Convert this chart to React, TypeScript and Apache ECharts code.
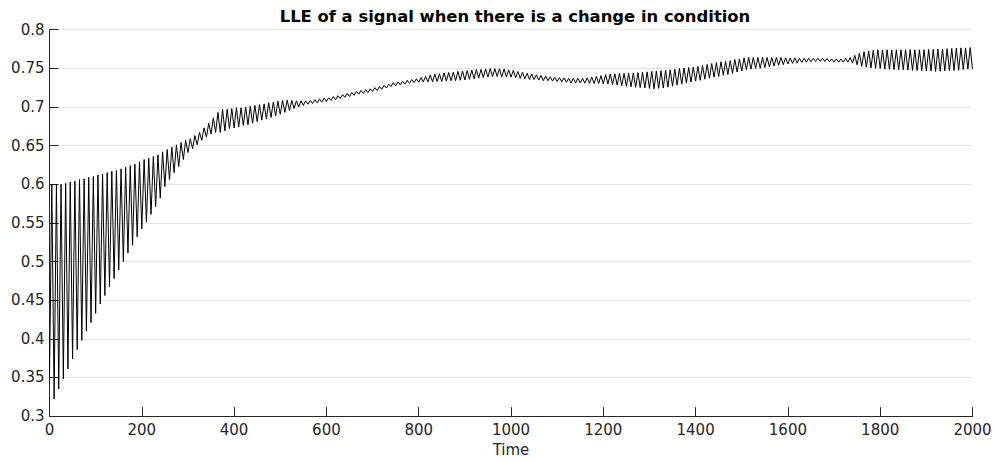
import React, { useEffect, useRef } from "react";
import * as echarts from "echarts";

const TITLE = "LLE of a signal when there is a change in condition";
const X_NAME = "Time";
const X_MIN = 0;
const X_MAX = 2000;
const X_STEP = 200;
const Y_MIN = 0.3;
const Y_MAX = 0.8;
const Y_STEP = 0.05;
const SAMPLE_STEP = 5; // troughs at even multiples of 10, peaks halfway between

// local minima of the signal, t = 0, 10, 20, ... 2000
const troughs = [
  0.350, 0.322, 0.335, 0.348, 0.361, 0.374, 0.386, 0.398, 0.410, 0.421,
  0.433, 0.445, 0.456, 0.467, 0.478, 0.489, 0.500, 0.511, 0.521, 0.532,
  0.542, 0.551, 0.561, 0.571, 0.582, 0.597, 0.606, 0.615, 0.623, 0.632,
  0.641, 0.646, 0.651, 0.657, 0.661, 0.665, 0.667, 0.667, 0.669, 0.672,
  0.673, 0.674, 0.676, 0.677, 0.679, 0.681, 0.683, 0.6845, 0.6865, 0.6885,
  0.6905, 0.693, 0.6955, 0.698, 0.700, 0.702, 0.7035, 0.7045, 0.7055, 0.7065,
  0.707, 0.7085, 0.7095, 0.711, 0.7125, 0.7135, 0.715, 0.7165, 0.7175, 0.7185,
  0.720, 0.7215, 0.723, 0.7245, 0.7265, 0.7275, 0.7285, 0.7295, 0.7305, 0.7315,
  0.732, 0.7325, 0.7325, 0.7325, 0.733, 0.733, 0.7335, 0.734, 0.734, 0.7345,
  0.735, 0.7358, 0.7365, 0.7375, 0.7383, 0.7387, 0.7395, 0.7395, 0.739, 0.739,
  0.7385, 0.738, 0.737, 0.7365, 0.7357, 0.7355, 0.7348, 0.734, 0.734, 0.7335,
  0.733, 0.7325, 0.732, 0.731, 0.731, 0.731, 0.7308, 0.7307, 0.7305, 0.7305,
  0.730, 0.7298, 0.729, 0.7283, 0.7275, 0.7268, 0.726, 0.7255, 0.725, 0.7245,
  0.724, 0.7235, 0.724, 0.7245, 0.7256, 0.7268, 0.7282, 0.7295, 0.731, 0.7323,
  0.7335, 0.7345, 0.736, 0.7373, 0.7385, 0.7395, 0.741, 0.742, 0.7435, 0.7452,
  0.7465, 0.748, 0.749, 0.750, 0.7502, 0.751, 0.752, 0.753, 0.754, 0.7547,
  0.7555, 0.7565, 0.757, 0.7576, 0.758, 0.7585, 0.759, 0.759, 0.7589, 0.7585,
  0.758, 0.758, 0.758, 0.758, 0.7568, 0.7545, 0.7525, 0.7515, 0.7505, 0.750,
  0.7498, 0.749, 0.7488, 0.7484, 0.748, 0.748, 0.7478, 0.7474, 0.747, 0.747,
  0.7465, 0.7465, 0.746, 0.7462, 0.7465, 0.7468, 0.7472, 0.7475, 0.7485, 0.749,
  0.749,
];

// local maxima of the signal, t = 5, 15, 25, ... 1995
const peaks = [
  0.600, 0.600, 0.600, 0.601, 0.603, 0.604, 0.606, 0.607, 0.609, 0.610,
  0.612, 0.613, 0.615, 0.617, 0.618, 0.620, 0.622, 0.624, 0.626, 0.629,
  0.632, 0.634, 0.636, 0.638, 0.642, 0.645, 0.648, 0.651, 0.654, 0.657,
  0.659, 0.663, 0.667, 0.673, 0.679, 0.686, 0.693, 0.697, 0.697, 0.698,
  0.699, 0.699, 0.700, 0.701, 0.702, 0.703, 0.704, 0.7055, 0.7065, 0.7075,
  0.7085, 0.709, 0.7085, 0.708, 0.708, 0.708, 0.7085, 0.7095, 0.7105, 0.7115,
  0.712, 0.7135, 0.7145, 0.716, 0.7175, 0.7185, 0.720, 0.7215, 0.7225, 0.7235,
  0.725, 0.7265, 0.728, 0.7295, 0.7315, 0.7325, 0.7335, 0.7345, 0.7355, 0.7365,
  0.738, 0.7395, 0.7415, 0.7425, 0.743, 0.744, 0.7445, 0.745, 0.746, 0.7465,
  0.747, 0.7478, 0.7485, 0.7485, 0.7493, 0.7497, 0.7495, 0.7495, 0.749, 0.748,
  0.7475, 0.746, 0.745, 0.7435, 0.7427, 0.7415, 0.7408, 0.740, 0.739, 0.7385,
  0.738, 0.7375, 0.737, 0.737, 0.737, 0.737, 0.7378, 0.7387, 0.7395, 0.7405,
  0.742, 0.7428, 0.743, 0.7433, 0.7435, 0.7438, 0.744, 0.7445, 0.745, 0.7455,
  0.746, 0.7465, 0.747, 0.7475, 0.748, 0.7488, 0.7498, 0.7505, 0.751, 0.7517,
  0.7525, 0.7535, 0.755, 0.7563, 0.7575, 0.7585, 0.759, 0.760, 0.7615, 0.7622,
  0.7635, 0.764, 0.764, 0.764, 0.7642, 0.764, 0.764, 0.764, 0.764, 0.7637,
  0.7635, 0.7635, 0.763, 0.763, 0.763, 0.7629, 0.763, 0.763, 0.7625, 0.7621,
  0.762, 0.762, 0.763, 0.764, 0.7668, 0.7695, 0.7715, 0.7725, 0.7735, 0.774,
  0.7738, 0.774, 0.7738, 0.774, 0.774, 0.774, 0.7742, 0.774, 0.774, 0.774,
  0.7745, 0.7745, 0.775, 0.7752, 0.7755, 0.7758, 0.7762, 0.7765, 0.7765, 0.777,
];

const FONT = "'DejaVu Sans', 'Liberation Sans', Arial, sans-serif";
const AXIS_COLOR = "#262626";

function buildSeries(): [number, number][] {
  const out: [number, number][] = [];
  for (let k = 0; k < troughs.length; k++) {
    out.push([k * 2 * SAMPLE_STEP, troughs[k]]);
    if (k < peaks.length) out.push([k * 2 * SAMPLE_STEP + SAMPLE_STEP, peaks[k]]);
  }
  return out;
}

export default function App() {
  const ref = useRef<HTMLDivElement>(null);
  useEffect(() => {
    if (!ref.current) return;
    const chart = echarts.init(ref.current, undefined, { renderer: "svg" });
    chart.setOption({
      animation: false,
      backgroundColor: "#ffffff",
      title: {
        text: TITLE,
        left: 510,
        top: 3,
        textAlign: "center",
        textStyle: { fontFamily: FONT, fontWeight: "bold", fontSize: 16.4, color: "#000" },
      },
      grid: { left: 49.5, right: 22.5, top: 29.7, bottom: 44.2, containLabel: false },
      xAxis: {
        type: "value",
        min: X_MIN,
        max: X_MAX,
        interval: X_STEP,
        name: X_NAME,
        nameLocation: "middle",
        nameGap: 24,
        nameTextStyle: { fontFamily: FONT, fontSize: 15, color: AXIS_COLOR },
        axisLine: { show: true, lineStyle: { color: AXIS_COLOR, width: 1 } },
        axisTick: { show: true, inside: true, length: 9, lineStyle: { color: AXIS_COLOR, width: 1 } },
        axisLabel: {
          fontFamily: FONT,
          fontSize: 15,
          color: AXIS_COLOR,
          margin: 6,
          formatter: (v: number) => String(v),
        },
        splitLine: { show: false },
      },
      yAxis: {
        type: "value",
        min: Y_MIN,
        max: Y_MAX,
        interval: Y_STEP,
        axisLine: { show: true, lineStyle: { color: AXIS_COLOR, width: 1 } },
        axisTick: { show: true, inside: true, length: 9, lineStyle: { color: AXIS_COLOR, width: 1 } },
        axisLabel: {
          fontFamily: FONT,
          fontSize: 15,
          color: AXIS_COLOR,
          margin: 5,
          formatter: (v: number) => String(+v.toFixed(2)),
        },
        splitLine: { show: true, lineStyle: { color: "#e6e6e6", width: 1 } },
      },
      series: [
        {
          type: "line",
          data: buildSeries(),
          showSymbol: false,
          silent: true,
          lineStyle: { color: "#000000", width: 1 },
        },
      ],
    });
    return () => chart.dispose();
  }, []);
  return (
    <div
      ref={ref}
      style={{ position: "fixed", left: 0, top: 0, width: 995, height: 462, background: "#fff" }}
    />
  );
}
